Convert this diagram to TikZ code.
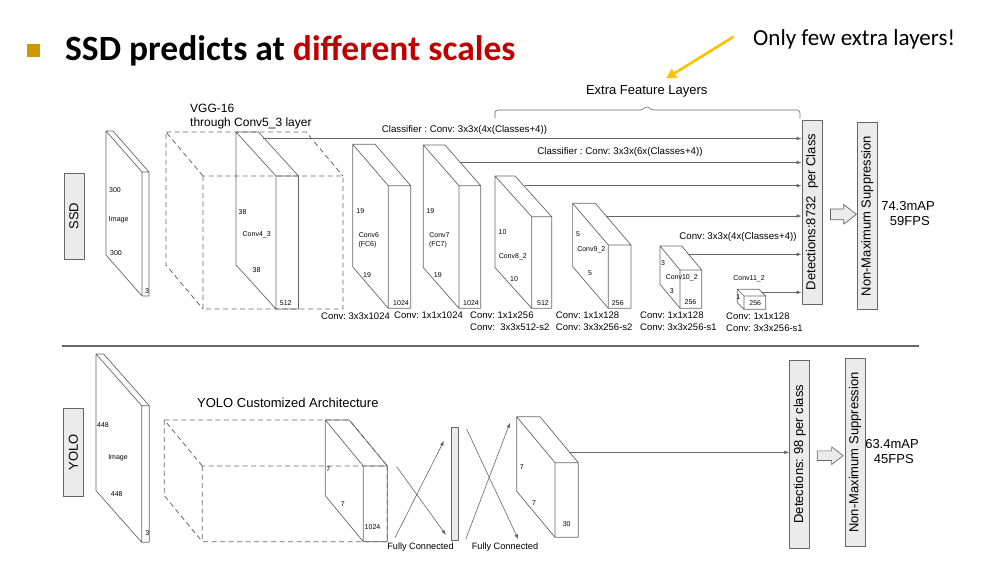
\documentclass[tikz,border=0pt]{standalone}
\usepackage{fontspec}
\setmainfont{Liberation Sans}
\newfontfamily\slidefont{Carlito}
\usetikzlibrary{arrows.meta, shapes.arrows}

\definecolor{linegray}{HTML}{666666}
\definecolor{boxfill}{HTML}{EBEBEB}
\definecolor{titlered}{HTML}{C00000}
\definecolor{bulletgold}{HTML}{CC9900}
\definecolor{notegold}{HTML}{FFC000}

% front face at (#2,#3), size #4 x #5, back face shifted by (-#6,-#7)
\newcommand{\layerbox}[7][]{%
  \draw[layer,#1] (#2,#3) rectangle ++(#4,#5)
    (#2,#3) -- ++(-#6,-#7) -- ++(0,#5) -- ++(#6,#7)
    (#2,#3) ++(-#6,-#7) -- ++(#4,0) -- ++(#6,#7);}

\begin{document}
\frenchspacing
\begin{tikzpicture}[
  x=1pt,
  y=-1pt,
  line cap=round,
  line join=round,
  layer/.style={
    draw=linegray,
    line width=0.7pt
  },
  hidden/.style={
    dash pattern=on 5pt off 3.5pt,
    line cap=butt,
    line width=0.8pt
  },
  tiny/.style={
    font=\fontsize{7}{8}\selectfont,
    inner sep=0pt
  },
  convlabel/.style={
    font=\fontsize{9.5}{12}\selectfont,
    anchor=west,
    align=left,
    inner sep=0pt
  },
  caption/.style={
    font=\fontsize{13}{15}\selectfont,
    inner sep=0pt
  },
  outbox/.style={
    draw=linegray,
    fill=boxfill,
    rotate=90,
    minimum height=20pt,
    inner sep=0pt,
    line width=0.7pt,
    font=\fontsize{13}{15}\selectfont
  },
  fat/.style={
    single arrow,
    draw=linegray,
    fill=boxfill,
    line width=0.7pt,
    minimum height=26pt,
    text height=10pt,
    text depth=0pt,
    text width=0pt,
    single arrow head extend=4.5pt,
    single arrow tip angle=75,
    inner sep=0pt
  },
  arrow/.style={
    -{Latex[length=5pt,width=3.6pt]},
    line width=0.6pt,
    draw=linegray
  }
]
\useasboundingbox (0,0) rectangle (991,562);

% ------------------------------------------------
% Slide title
% ------------------------------------------------
\node[fill=bulletgold, minimum size=13pt, inner sep=0pt] (bullet) at (33,50) {};
\node[anchor=base west, inner sep=0pt,
  font=\slidefont\bfseries\fontsize{35.5}{40}\selectfont] (title) at (65,60)
{SSD predicts at \textcolor{titlered}{different scales}};

\node[anchor=base west, inner sep=0pt,
  font=\slidefont\fontsize{23}{27}\selectfont] (note) at (753,45)
{Only few extra layers!};

\coordinate (notetail) at (733,37);
\coordinate (notehead) at (666,78.5);
\draw[-{Triangle[length=10pt,width=10pt]}, line width=2.6pt, draw=notegold]
  (notetail) -- (notehead);

% ------------------------------------------------
% SSD
% ------------------------------------------------
\node[outbox, minimum width=86pt] (ssdtag) at (74,216) {SSD};

% input image
\layerbox{142}{172}{7}{124}{36}{41}
\node[tiny] at (115,190) {300};
\node[tiny] at (118.7,220) {Image};
\node[tiny] at (116,253.3) {300};
\node[tiny] at (147,290.7) {3};

% VGG-16 base
\layerbox[hidden]{203}{176}{140}{133}{37}{44}
\node[font=\fontsize{12}{13.5}\selectfont, anchor=west, align=left, inner sep=0pt]
  (vgg) at (190,116.5) {VGG-16\\through Conv5\_3 layer};

\layerbox{276}{176}{22.5}{133}{40}{44}
\node[tiny] at (242.5,211.7) {38};
\node[tiny] at (256.7,235) {Conv4\_3};
\node[tiny] at (256.5,270) {38};
\node[tiny] at (285.8,303.3) {512};

% Conv6 and Conv7
\layerbox{388.3}{185.7}{22.4}{122.6}{35.6}{41.4}
\node[tiny] at (360.3,210.7) {19};
\node[tiny] at (369,235) {Conv6};
\node[tiny] at (367.5,245) {(FC6)};
\node[tiny] at (367,275.3) {19};
\node[tiny] at (401,303.3) {1024};

\layerbox{459}{185.7}{21.7}{122.6}{35.7}{40.7}
\node[tiny] at (430.3,210.7) {19};
\node[tiny] at (439.5,235) {Conv7};
\node[tiny] at (438,245) {(FC7)};
\node[tiny] at (437.8,275.3) {19};
\node[tiny] at (471,303.3) {1024};

% extra feature layers
\layerbox{531.7}{216.7}{20}{91.6}{36.7}{40.7}
\node[tiny] at (502.5,232.3) {10};
\node[tiny] at (512.8,256.7) {Conv8\_2};
\node[tiny] at (514,279) {10};
\node[tiny] at (543,302.7) {512};

\layerbox{608.3}{245}{22.7}{63.3}{35.7}{41.7}
\node[tiny] at (578,234) {5};
\node[tiny] at (591.3,250) {Conv9\_2};
\node[tiny] at (590,273.3) {5};
\node[tiny] at (617.8,302.7) {256};

\layerbox{680}{270}{21.7}{38.3}{20}{24}
\node[tiny] at (663,263.3) {3};
\node[tiny] at (681.7,277.3) {Conv10\_2};
\node[tiny] at (671.7,290.7) {3};
\node[tiny] at (690.5,301.7) {256};

\layerbox{744}{296}{21.7}{13.3}{6.7}{6.7}
\node[tiny] at (749,278.3) {Conv11\_2};
\node[tiny] at (738.3,297.3) {1};
\node[tiny] at (755.2,303) {256};

% layer settings
\node[convlabel] at (321,316) {Conv: 3x3x1024};
\node[convlabel] at (394,315.5) {Conv: 1x1x1024};
\node[convlabel] at (470,321.2) {Conv: 1x1x256\\Conv:\ \ 3x3x512-s2};
\node[convlabel] at (555.7,321.2) {Conv: 1x1x128\\Conv: 3x3x256-s2};
\node[convlabel] at (640,321.2) {Conv: 1x1x128\\Conv: 3x3x256-s1};
\node[convlabel] at (726,322) {Conv: 1x1x128\\Conv: 3x3x256-s1};

% extra feature layers brace
\draw[layer, line width=0.6pt, rounded corners=3pt]
  (495,118) |- (643,110) -- (647,105.5) -- (651,110) -| (800,118);
\node[caption] (extra) at (646.7,91.7) {Extra Feature Layers};

% outputs
\node[outbox, minimum width=184pt] (ssddet) at (812,212)
{Detections:8732\ \ per Class};
\node[outbox, minimum width=186.6pt] (ssdnms) at (867.3,216)
{Non-Maximum Suppression};
\node[fat] (ssdgo) at (840,214.3) {};
\node[caption, align=center] (ssdscore) at (908,214)
{74.3mAP\\\ 59FPS};

% classifiers into the detection box
\coordinate (from43) at (263,138.5);
\coordinate (from7) at (460,162.5);
\coordinate (from82) at (525,185.7);
\coordinate (from92) at (607,216);
\coordinate (from102) at (688.6,254.3);
\coordinate (from112) at (762,292.3);

\draw[arrow] (from43) -- (from43 -| ssddet.north);
\draw[arrow] (from7) -- (from7 -| ssddet.north);
\draw[arrow] (from82) -- (from82 -| ssddet.north);
\draw[arrow] (from92) -- (from92 -| ssddet.north);
\draw[arrow] (from102) -- (from102 -| ssddet.north);
\draw[arrow] (from112) -- (from112 -| ssddet.north);

\node[font=\fontsize{9.7}{11}\selectfont, inner sep=0pt] at (464.5,130)
{Classifier : Conv: 3x3x(4x(Classes+4))};
\node[font=\fontsize{9.7}{11}\selectfont, inner sep=0pt] at (620,152)
{Classifier : Conv: 3x3x(6x(Classes+4))};
\node[font=\fontsize{9.7}{11}\selectfont, inner sep=0pt] at (738,237.3)
{Conv: 3x3x(4x(Classes+4))};

% ------------------------------------------------
% separator
% ------------------------------------------------
\draw[draw=linegray, line width=1.8pt, line cap=butt] (62,346) -- (919,346);

% ------------------------------------------------
% YOLO
% ------------------------------------------------
\node[outbox, minimum width=87.7pt] (yolotag) at (73.3,452.2) {YOLO};

\layerbox{141.7}{405.7}{7.6}{136.6}{45.7}{51.7}
\node[tiny] at (103,425) {448};
\node[tiny] at (118,458.3) {Image};
\node[tiny] at (116.7,494) {448};
\node[tiny] at (147.3,532.7) {3};

\layerbox[hidden]{202.3}{466}{185}{75.7}{38}{46}
\node[caption, anchor=west] (yoloarch) at (197,402.7)
{YOLO Customized Architecture};

\layerbox{363.3}{466}{24}{75.7}{38}{46}
\node[tiny] at (328.3,469.3) {7};
\node[tiny] at (342.7,504) {7};
\node[tiny] at (372.5,527.3) {1024};

% fully connected layers
\node[draw=linegray, fill=boxfill, line width=0.7pt, minimum width=6.6pt,
  minimum height=112.7pt, inner sep=0pt] (fcbar) at (455,483.7) {};

\coordinate (fcaa) at (395,537.7);
\coordinate (fcab) at (444,440.7);
\coordinate (fcba) at (396.7,466.7);
\coordinate (fcbb) at (446,535);
\coordinate (fcca) at (465.7,539.3);
\coordinate (fccb) at (510,422.7);
\coordinate (fcda) at (466.7,429.3);
\coordinate (fcdb) at (518.3,539.3);

\draw[arrow] (fcaa) -- (fcab);
\draw[arrow] (fcba) -- (fcbb);
\draw[arrow] (fcca) -- (fccb);
\draw[arrow] (fcda) -- (fcdb);

\node[font=\fontsize{9.2}{11}\selectfont, inner sep=0pt] at (420.5,546.7) {Fully Connected};
\node[font=\fontsize{9.2}{11}\selectfont, inner sep=0pt] at (505,546.7) {Fully Connected};

\layerbox{555}{462.7}{23.3}{74.6}{38.3}{46}
\node[tiny] at (521.7,466.7) {7};
\node[tiny] at (534,502.7) {7};
\node[tiny] at (566.7,524) {30};

% outputs
\node[outbox, minimum width=188.3pt] (yolodet) at (799.7,454.2)
{Detections: 98 per class};
\node[outbox, minimum width=188.4pt] (yolonms) at (855,452.5)
{Non-Maximum Suppression};
\node[fat, text height=9pt, single arrow head extend=4pt] (yologo) at (827,455.7) {};
\node[caption, align=center] (yoloscore) at (892,452)
{63.4mAP\\\ 45FPS};

\coordinate (from30) at (569.6,452.3);
\draw[arrow] (from30) -- (from30 -| yolodet.north);

\end{tikzpicture}
\end{document}
